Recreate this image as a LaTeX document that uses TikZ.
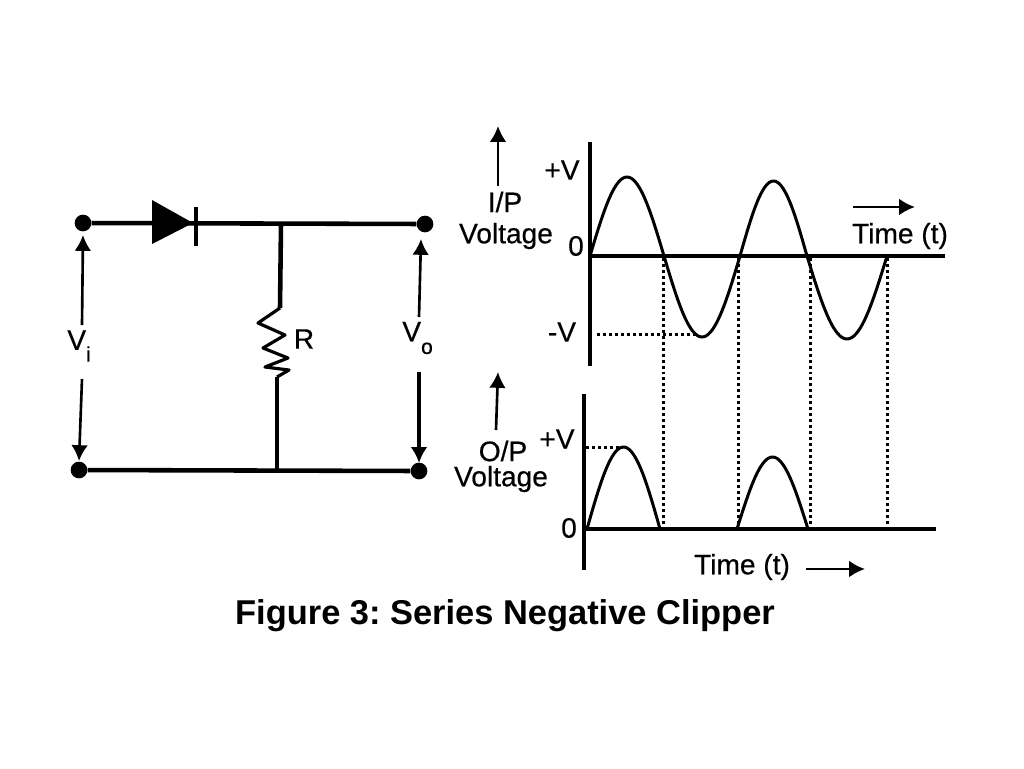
\documentclass[tikz,border=0pt]{standalone}
\usepackage{fontspec}
\setmainfont{Liberation Sans}
\newfontfamily\labelfont[RawFeature={embolden=0.5}]{Liberation Sans}
\usetikzlibrary{arrows.meta,calc}
\frenchspacing

\tikzset{
  wire/.style={line width=2.6pt},
  axisline/.style={line width=2.5pt},
  wave/.style={line width=1.7pt,line join=round},
  guide/.style={line width=1.7pt,dash pattern=on 1.7pt off 1.7pt},
  pointer/.style={line width=1.5pt,-{Latex[length=9pt,width=9.5pt]}},
  terminal/.style={circle,fill=black,inner sep=0pt,minimum size=9.5pt},
  txt/.style={inner sep=0pt,font=\labelfont\fontsize{16}{18}\selectfont},
}

\begin{document}
\begin{tikzpicture}[x=0.02cm,y=-0.02cm]

  \useasboundingbox (0,0) rectangle (1024,768);
  \fill[white] (0,0) rectangle (1024,768);

  %%% circuit
  \node [terminal] (TL) at (83,223) {};
  \node [terminal] (TR) at (425,224) {};
  \node [terminal] (BL) at (79,470) {};
  \node [terminal] (BR) at (419,471) {};

  \coordinate (JT) at (281,223.5);
  \coordinate (JB) at (277,470);
  \coordinate (RT) at (280,308);
  \coordinate (RB) at (277,377);

  \draw[wire] (TL) -- (TR);
  \draw[wire] (BL) -- (BR);
  \draw[wire] (JT) -- (RT);
  \draw[wire] (RB) -- (JB);

  %% diode
  \fill (152,200) -- (193,223) -- (152,244) -- cycle;
  \draw[line width=2.4pt] (196,207) -- (196,246);

  %% resistor
  \draw[line width=1.8pt,line join=round] (RT) -- (258,323) -- (285,335) -- (263,348)
    -- (288,358) -- (265,367) -- (289,370) -- (RB);
  \node [txt] (Rlabel) at (304,339) {R};

  %% voltages
  \node [txt,anchor=west] (Vi) at (67,346) {V\raisebox{-0.42em}{\fontsize{12}{12}\selectfont i}};
  \node [txt,anchor=west] (Vo) at (402,338) {V\raisebox{-0.45em}{\fontsize{12}{12}\selectfont o}};
  \coordinate (ViU) at (82,325);
  \coordinate (ViD) at (82,379);
  \coordinate (VoU) at (419,317);
  \coordinate (VoD) at (419,372);
  \draw[pointer] (ViU) -- (83,235);
  \draw[pointer] (ViD) -- (79,461);
  \draw[pointer] (VoU) -- (421,239);
  \draw[pointer,line width=2pt] (VoD) -- (419,463);

  %%% input graph
  \coordinate (IO) at (590,256);
  \draw[axisline] (590,142) -- (590,366);
  \draw[axisline] (IO) -- (945,256);

  \foreach \xa/\xb/\amp in {590/664/79, 664/740/-81, 740/807/75, 807/887/-83}
    \draw[wave] plot[domain=0:180,samples=40,variable=\t]
      ({\xa+(\xb-\xa)*\t/180},{256-\amp*sin(\t)});

  \node [txt] (Iplus) at (562,170) {+V};
  \node [txt] (Izero) at (576,246) {0};
  \node [txt] (Iminus) at (562,332) {-V};
  \node [txt] (Ip) at (505,202) {I/P};
  \node [txt] (Ivolt) at (506,236) {Voltage};
  \node [txt] (Itime) at (900,236) {Time (t)};
  \draw[pointer] (498,186) -- (498,126);
  \draw[pointer] (853,207) -- (915,207);
  \draw[guide] (597,334) -- (697,334);

  %%% output graph
  \coordinate (OO) at (584,529);
  \draw[axisline] (584,394) -- (584,570);
  \draw[axisline] (OO) -- (936,529);

  \foreach \xa/\xb/\amp in {587/660/82, 737/808/72}
    \draw[wave] plot[domain=0:180,samples=40,variable=\t]
      ({\xa+(\xb-\xa)*\t/180},{529-\amp*sin(\t)});

  \node [txt] (Oplus) at (557,439) {+V};
  \node [txt] (Ozero) at (569,528) {0};
  \node [txt] (Op) at (503,451) {O/P};
  \node [txt] (Ovolt) at (501,479) {Voltage};
  \node [txt] (Otime) at (742,567) {Time (t)};
  \draw[pointer] (496,430) -- (498,372);
  \draw[pointer] (806,569) -- (865,569);
  \draw[guide] (586,447) -- (622,447);

  %% dotted lines between graphs
  \foreach \x in {663,738,810,887}
    \draw[guide] (\x,258) -- (\x,529);

  \node [inner sep=0pt,font=\fontsize{19.6}{22}\selectfont\bfseries] (caption) at (505,616) {Figure 3: Series Negative Clipper};

\end{tikzpicture}
\end{document}
